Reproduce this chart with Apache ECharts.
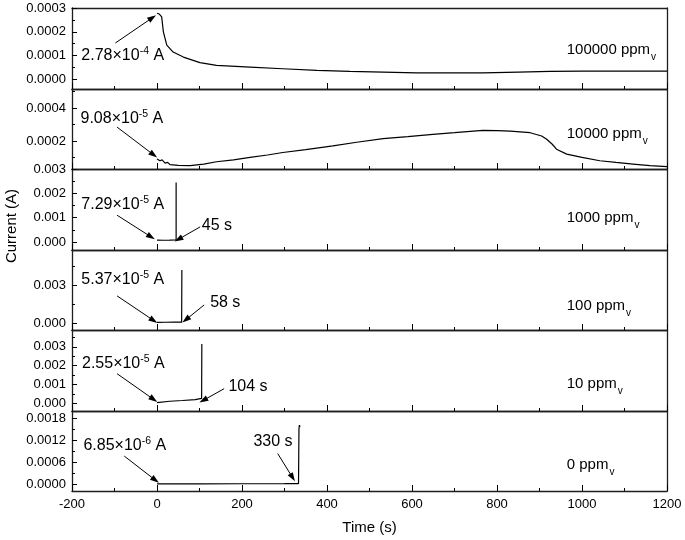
<!DOCTYPE html>
<html><head><meta charset="utf-8">
<script src="https://cdn.jsdelivr.net/npm/echarts@6/dist/echarts.min.js"></script>
<style>html,body{margin:0;padding:0;background:#fff}#c{width:685px;height:540px;background:#fff}</style>
</head><body><div id="c"></div>
<script>
const FONT = '"Liberation Sans", Arial, Helvetica, sans-serif';

// ---- data ----
const concentrations = ['100000', '10000', '1000', '100', '10', '0'];
const onsetMantissa = ['2.78', '9.08', '7.29', '5.37', '2.55', '6.85'];
const onsetExponent = ['-4', '-5', '-5', '-5', '-5', '-6'];
const responseTimes = [null, null, 45, 58, 104, 330];

const s100000 = [[0,0.000278],[5,0.000275],[11,0.000263],[15,0.0002],[23,0.000144],[38,0.000115],[62,0.000094],[101,0.000071],[140,0.000059],[219,0.000052],[296,0.000045],[376,0.000038],[454,0.000034],[532,0.000031],[611,0.000028],[767,0.000028],[850,0.000031],[925,0.000034],[1002,0.000035],[1082,0.000035],[1200,0.000035]];
const s10000 = [[0,0.0000908],[4,0.000095],[7,0.00008],[12,0.000085],[19,0.000066],[25,0.00007],[31,0.000056],[50,0.000052],[78,0.00005],[110,0.00006],[140,0.000074],[180,0.000085],[219,0.0001],[260,0.000115],[296,0.00013],[350,0.000148],[414,0.00017],[470,0.000192],[532,0.000214],[590,0.000226],[649,0.00024],[700,0.00025],[767,0.000264],[800,0.000263],[831,0.00026],[878,0.00025],[905,0.00023],[917,0.00021],[930,0.00018],[940,0.00015],[964,0.00012],[1000,0.0001],[1042,0.00008],[1080,0.00007],[1120,0.00006],[1160,0.00005],[1200,0.000045]];
const s1000 = [[0,0.0000729],[15,0.00007],[30,0.000075],[45,0.00009],[45,0.00245]];
const s100 = [[0,0.0000537],[20,0.00006],[40,0.000065],[58,0.00007],[58.5,0.00418]];
const s10 = [[0,0.0000255],[3,0.00007],[30,0.0001],[60,0.00014],[90,0.00019],[105,0.00025],[105.5,0.00315]];
const s0 = [[0,0.00000685],[100,0.000008],[200,0.00001],[300,0.000012],[333,0.000015],[334,0.0015],[335,0.00162],[337,0.00158]];
const seriesData = [s100000, s10000, s1000, s100, s10, s0];

// ---- axes ----
const timeMin = -200, timeMax = 1200, timeStep = 200;
const timeMajor = [-200, 0, 200, 400, 600, 800, 1000, 1200];
const timeMinor = [-100, 100, 300, 500, 700, 900, 1100];
const yMin = [-0.00004, 0.00003, -0.00033, -0.00055, -0.00042, -0.00019];
const yMax = [0.0003, 0.000515, 0.003, 0.00576, 0.0039, 0.00201];
const yMajor = [[0,0.0001,0.0002,0.0003],[0.0002,0.0004],[0,0.001,0.002,0.003],[0,0.003],[0,0.001,0.002,0.003],[0,0.0006,0.0012,0.0018]];
const yMinor = [[0.00005,0.00015,0.00025],[0.0001,0.0003,0.0005],[0.0005,0.0015,0.0025],[0.0015,0.0045],[0.0005,0.0015,0.0025,0.0035],[0.0003,0.0009,0.0015]];
const yDecimals = [4, 4, 3, 3, 3, 4];

// ---- annotation anchors (data coordinates) ----
const onsetTextAt = [[-178,0.0000984],[-180,0.000338],[-178,0.00152],[-178,0.00339],[-176.5,0.00213],[-173,0.00107]];
const onsetArrows = [[[-98,0.000153],[-11,0.000259]],[[-94,0.000284],[-8,0.000116]],[[-94,0.0011],[-14,0.00021]],[[-94,0.00214],[-8,0.0002]],[[-94,0.00157],[-8,0.0002]],[[-77,0.00077],[-4,0.00011]]];
const responseTextAt = [null,null,[105.5,0.00069],[125,0.00159],[168,0.00086],[227,0.00116]];
const responseArrows = [null,null,[[101.5,0.00062],[50.5,0.00011]],[[111,0.00143],[68,0.00026]],[[158,0.00077],[109,0.00015]],[[284,0.00084],[319,0.00018]]];
const concTextAt = [[964,0.000124],[964,0.000242],[964,0.001],[964,0.00133],[964,0.00101],[964,0.00053]];

// ---- layout ----
const W = 685, N = 6, TOP = 8, PANEL_H = 80.5, LEFT = 72, RIGHT = 18;
const AX = '#1e1e1e';
const X_MAJOR_LEN = 6, X_MINOR_LEN = 3, Y_MAJOR_LEN = 5, Y_MINOR_LEN = 3;
function frameLine() { return {show: true, onZero: false, lineStyle: {color: AX, width: 1.3}}; }
const timePerPx = (timeMax - timeMin) / (W - LEFT - RIGHT);

const grids = [], xAxes = [], yAxes = [], series = [];
for (let i = 0; i < N; i++) {
  const gTop = TOP + Math.round(i * PANEL_H);
  const gH = TOP + Math.round((i + 1) * PANEL_H) - gTop;
  grids.push({left: LEFT, right: RIGHT, top: gTop, height: gH});
  const last = i === N - 1;
  xAxes.push({gridIndex: i, type: 'value', min: timeMin, max: timeMax, interval: timeStep, position: 'bottom',
    axisLine: frameLine(), axisTick: {show: false}, minorTick: {show: false},
    splitLine: {show: false},
    axisLabel: {show: last, margin: 7, fontSize: 13, color: '#000', fontFamily: FONT, formatter: v => String(v)},
    name: last ? 'Time (s)' : undefined, nameLocation: 'middle', nameGap: 29,
    nameTextStyle: {fontSize: 15, color: '#000', fontFamily: FONT}
  });
  xAxes.push({gridIndex: i, type: 'value', min: timeMin, max: timeMax, position: 'top',
    axisLine: frameLine(), axisTick: {show: false}, minorTick: {show: false},
    axisLabel: {show: false}, splitLine: {show: false}});
  const dec = yDecimals[i];
  yAxes.push({gridIndex: i, type: 'value', min: yMin[i], max: yMax[i], position: 'left',
    axisLine: frameLine(), axisTick: {show: false},
    axisLabel: {show: true, customValues: yMajor[i], formatter: v => Number(v).toFixed(dec),
      margin: 6, fontSize: 13, color: '#000', fontFamily: FONT},
    splitLine: {show: false}
  });
  yAxes.push({gridIndex: i, type: 'value', min: yMin[i], max: yMax[i], position: 'right',
    axisLine: frameLine(), axisTick: {show: false}, axisLabel: {show: false}, splitLine: {show: false}});

  const points = [
    {coord: onsetTextAt[i], label: {formatter: '{n|' + onsetMantissa[i] + '×10}{sup|' + onsetExponent[i] + '}{n| A}'}},
    {coord: concTextAt[i], label: {formatter: '{c|' + concentrations[i] + ' ppm}{sub|v}'}}
  ];
  const lines = [[{coord: onsetArrows[i][0], symbol: 'none'}, {coord: onsetArrows[i][1], symbol: 'triangle', symbolSize: [6, 9]}]];
  if (responseTimes[i] !== null) {
    points.push({coord: responseTextAt[i], label: {formatter: '{n|' + responseTimes[i] + ' s}'}});
    lines.push([{coord: responseArrows[i][0], symbol: 'none'}, {coord: responseArrows[i][1], symbol: 'triangle', symbolSize: [6, 9]}]);
  }
  // inward ticks along the bottom (time) and left (current) axes
  const valPerPx = (yMax[i] - yMin[i]) / gH;
  const seg = (a, b) => [{coord: a, symbol: 'none'}, {coord: b, symbol: 'none'}];
  timeMajor.forEach(t => lines.push(seg([t, yMin[i]], [t, yMin[i] + X_MAJOR_LEN * valPerPx])));
  timeMinor.forEach(t => lines.push(seg([t, yMin[i]], [t, yMin[i] + X_MINOR_LEN * valPerPx])));
  yMajor[i].forEach(v => lines.push(seg([timeMin, v], [timeMin + Y_MAJOR_LEN * timePerPx, v])));
  yMinor[i].forEach(v => lines.push(seg([timeMin, v], [timeMin + Y_MINOR_LEN * timePerPx, v])));

  series.push({
    type: 'line', xAxisIndex: 2 * i, yAxisIndex: 2 * i, data: seriesData[i],
    showSymbol: false, animation: false,
    lineStyle: {color: '#000', width: 1.2},
    markPoint: {
      symbol: 'circle', symbolSize: 0, silent: true, animation: false,
      itemStyle: {color: 'rgba(0,0,0,0)'},
      label: {show: true, position: 'right', distance: 0, color: '#000', fontFamily: FONT,
        rich: {
          n: {fontSize: 16, color: '#000', fontFamily: FONT},
          sup: {fontSize: 10.5, color: '#000', fontFamily: FONT, padding: [0, 0, 9, 0]},
          c: {fontSize: 15, color: '#000', fontFamily: FONT},
          sub: {fontSize: 10, color: '#000', fontFamily: FONT, padding: [15, 0, 0, 1]}
        }},
      data: points
    },
    markLine: {
      silent: true, animation: false, symbol: ['none', 'none'], symbolSize: [0, 8],
      lineStyle: {color: '#000', width: 1, type: 'solid'},
      itemStyle: {color: '#000'},
      label: {show: false},
      data: lines
    }
  });
}

const chart = echarts.init(document.getElementById('c'));
chart.setOption({
  animation: false,
  grid: grids, xAxis: xAxes, yAxis: yAxes, series: series,
  graphic: [{type: 'text', x: 12, y: 226, rotation: Math.PI / 2, silent: true,
    style: {text: 'Current (A)', fontSize: 15, fontFamily: FONT, fill: '#000', align: 'center', verticalAlign: 'middle'}}]
});
</script></body></html>
